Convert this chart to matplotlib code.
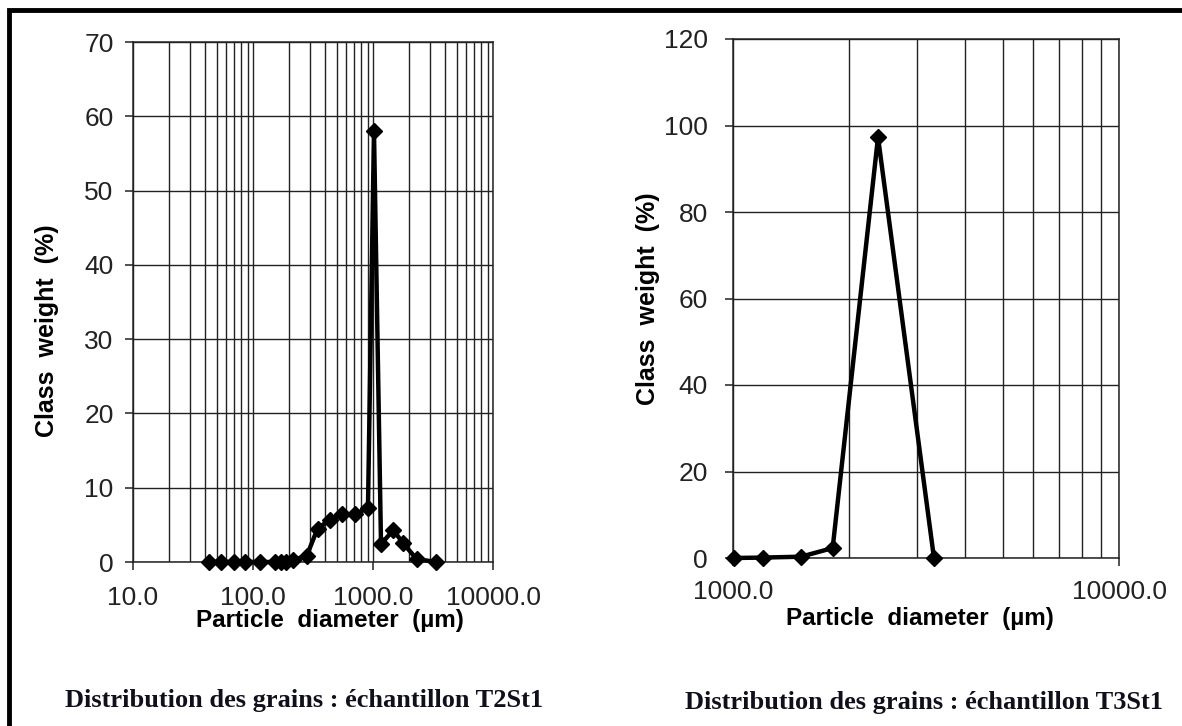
import matplotlib
matplotlib.use("Agg")
import matplotlib.pyplot as plt
import matplotlib.ticker as mticker
from matplotlib.patches import Rectangle

# Grain-size distributions (sieve diameter in µm, class weight in %)
t2_diam = [43, 54, 70, 86, 114, 152, 171, 187, 217, 280, 345, 438, 551,
           708, 908, 1019, 1166, 1476, 1788, 2310, 3350]
t2_weight = [0.0, 0.0, 0.0, 0.0, 0.0, 0.0, 0.0, 0.0, 0.3, 0.8, 4.5, 5.7, 6.4,
             6.4, 7.3, 58.0, 2.4, 4.3, 2.5, 0.4, 0.0]

t3_diam = [1006, 1194, 1500, 1812, 2375, 3316]
t3_weight = [0.0, 0.1, 0.3, 2.3, 97.3, 0.0]

t2_xticks = [10, 100, 1000, 10000]
t3_xticks = [1000, 10000]
t2_yticks = [0, 10, 20, 30, 40, 50, 60, 70]
t3_yticks = [0, 20, 40, 60, 80, 100, 120]

titles = ["Distribution des grains : échantillon T2St1",
          "Distribution des grains : échantillon T3St1"]

plt.rcParams["font.family"] = ["Liberation Sans", "DejaVu Sans"]

W, H = 1182, 726
fig = plt.figure(figsize=(W / 100, H / 100), dpi=100)
fig.patch.set_facecolor("white")


def px_axes(x0, x1, top, bottom):
    return fig.add_axes([x0 / W, 1 - bottom / H, (x1 - x0) / W, (bottom - top) / H])


def style(ax, xticks, yticks, xpad, ypad):
    ax.set_xscale("log")
    ax.set_xlim(xticks[0], xticks[-1])
    ax.set_ylim(yticks[0], yticks[-1])
    ax.xaxis.set_major_locator(mticker.FixedLocator(xticks))
    ax.xaxis.set_major_formatter(mticker.FuncFormatter(lambda v, p: f"{v:.1f}"))
    ax.xaxis.set_minor_locator(mticker.LogLocator(base=10, subs=range(2, 10)))
    ax.xaxis.set_minor_formatter(mticker.NullFormatter())
    ax.set_yticks(yticks)
    ax.grid(True, which="both", color="#222222", linewidth=1.0)
    ax.set_axisbelow(True)
    for s in ax.spines.values():
        s.set_color("#222222")
        s.set_linewidth(1.1)
    ax.tick_params(axis="x", which="major", direction="out", length=6, width=1.1,
                   labelsize=19, pad=xpad, colors="#222222")
    ax.tick_params(axis="x", which="minor", length=0)
    ax.tick_params(axis="y", direction="out", length=6, width=1.1,
                   labelsize=19, pad=ypad, colors="#222222")


def draw(ax, d, w):
    ax.plot(d, w, color="black", linewidth=3.2, marker="D", markersize=8,
            markerfacecolor="black", markeredgecolor="black", clip_on=False,
            zorder=5)


# T2St1
ax1 = px_axes(133, 493, 42, 562)
style(ax1, t2_xticks, t2_yticks, xpad=11, ypad=8)
draw(ax1, t2_diam, t2_weight)
ax1.set_xlabel("Particle  diameter  (µm)", fontsize=17.5, fontweight="bold")
ax1.set_ylabel("Class  weight  (%)", fontsize=18, fontweight="bold")
ax1.xaxis.set_label_coords((330 - 133) / 360, (562 - 620) / 520)
ax1.xaxis.label.set_va("center")
ax1.yaxis.set_label_coords((47 - 133) / 360, 0.445)
ax1.yaxis.label.set_va("center")

# T3St1
ax2 = px_axes(733, 1119, 39, 558)
style(ax2, t3_xticks, t3_yticks, xpad=9.5, ypad=12)
draw(ax2, t3_diam, t3_weight)
ax2.set_xlabel("Particle  diameter  (µm)", fontsize=17.5, fontweight="bold")
ax2.set_ylabel("Class  weight  (%)", fontsize=18, fontweight="bold")
ax2.xaxis.set_label_coords((920 - 733) / 386, (558 - 619) / 519)
ax2.xaxis.label.set_va("center")
ax2.yaxis.set_label_coords((648 - 733) / 386, 0.5)
ax2.yaxis.label.set_va("center")

# captions under each chart
for xc, yc, txt in [(304, 700, titles[0]), (924, 702, titles[1])]:
    fig.text(xc / W, 1 - yc / H, txt, ha="center", va="center", fontsize=19,
             fontweight="bold", color="#10101c",
             family=["Liberation Serif", "DejaVu Serif"])

# page frame
fig.patches.append(Rectangle((9 / W, -0.1), 1.2, 1.1 - 10 / H, transform=fig.transFigure,
                             fill=False, edgecolor="black", linewidth=3.5))

fig.savefig("out.png", dpi=100, facecolor="white")
